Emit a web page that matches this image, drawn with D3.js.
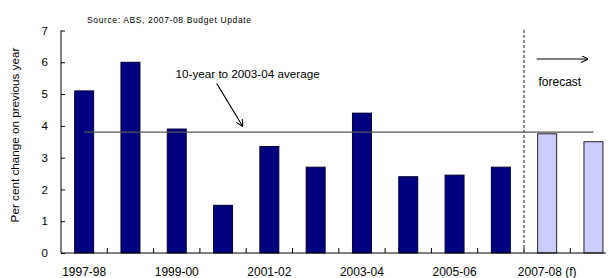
<!DOCTYPE html>
<html><head><meta charset="utf-8">
<script src="https://cdn.jsdelivr.net/npm/d3@7"></script>
<style>body{margin:0;background:#fff}svg{display:block;font-family:"Liberation Sans",Arial,sans-serif}</style>
</head><body>
<svg id="c" width="613" height="278"></svg>
<script>
const categories = ["1997-98","1998-99","1999-00","2000-01","2001-02","2002-03","2003-04","2004-05","2005-06","2006-07","2007-08 (f)","2008-09 (f)"];
const values = [5.1, 6.0, 3.9, 1.5, 3.35, 2.7, 4.4, 2.4, 2.45, 2.7, 3.75, 3.5];
const forecast = [false,false,false,false,false,false,false,false,false,false,true,true];
const xLabels = ["1997-98","1999-00","2001-02","2003-04","2005-06","2007-08 (f)"];
const yTicks = [0,1,2,3,4,5,6,7];
const average = 3.8;
const avgLabel = "10-year to 2003-04 average";
const source = "Source: ABS, 2007-08 Budget Update";
const yTitle = "Per cent change on previous year";

const svg = d3.select("#c");
const x = d3.scaleBand().domain(categories).range([61, 616.6]).paddingInner(0.59).paddingOuter(0.295);
const xb = d3.scaleBand().domain(categories).range([61, 616.6]);
const y = d3.scaleLinear().domain([0, 7]).range([253, 30.5]);

// bars
svg.selectAll("rect.bar").data(categories).join("rect")
  .attr("x", d => x(d)).attr("width", x.bandwidth())
  .attr("y", (d,i) => y(values[i])).attr("height", (d,i) => y(0) - y(values[i]))
  .attr("fill", (d,i) => forecast[i] ? "#ccccff" : "#000080")
  .attr("stroke", (d,i) => forecast[i] ? "#222" : "#000033").attr("stroke-width", 1);

// y axis
const yAxis = d3.axisLeft(y).tickValues(yTicks).tickSize(-4).tickPadding(13).tickFormat(d3.format("d"));
const ga = svg.append("g").attr("transform", "translate(61,0)").call(yAxis);
ga.select(".domain").attr("d", `M0,${y(7)}V${y(0)}`).attr("stroke", "#000");
ga.selectAll("text").attr("font-size", 11.5).attr("fill", "#000").attr("font-family", "Liberation Sans, Arial");
ga.selectAll("line").attr("stroke", "#000");

// x axis line + ticks between categories
svg.append("line").attr("x1", 61).attr("x2", 606).attr("y1", y(0)).attr("y2", y(0)).attr("stroke", "#000");
svg.selectAll("line.xt").data(categories.slice(1)).join("line")
  .attr("x1", d => xb(d)).attr("x2", d => xb(d)).attr("y1", y(0)).attr("y2", y(0) - 5).attr("stroke", "#000");
svg.selectAll("text.xl").data(xLabels).join("text")
  .attr("x", d => xb(d) + xb.bandwidth()/2).attr("y", 276)
  .attr("text-anchor", "middle").attr("font-size", 12).text(d => d);

// average line
svg.append("line")
  .attr("x1", xb(categories[0]) + xb.bandwidth()/2)
  .attr("x2", xb(categories[categories.length-1]) + xb.bandwidth()/2)
  .attr("y1", y(average)).attr("y2", y(average))
  .attr("stroke", "#555").attr("stroke-width", 1.3);

// markers
const defs = svg.append("defs");
defs.append("marker").attr("id", "ah").attr("viewBox", "0 0 10 10").attr("refX", 9).attr("refY", 5)
  .attr("markerWidth", 7).attr("markerHeight", 7).attr("orient", "auto").attr("markerUnits", "userSpaceOnUse")
  .append("path").attr("d", "M0,0 L10,5 L0,10").attr("fill", "none").attr("stroke", "#000").attr("stroke-width", 1.5);

// annotation
svg.append("text").attr("x", 175.5).attr("y", 78).attr("font-size", 11.7).text(avgLabel);
svg.append("line").attr("x1", 216.7).attr("y1", 83.5).attr("x2", 242.5).attr("y2", 126)
  .attr("stroke", "#000").attr("stroke-width", 1.2).attr("marker-end", "url(#ah)");

// forecast divider
const fx = xb(categories[10]);
svg.append("line").attr("x1", fx).attr("x2", fx).attr("y1", 30).attr("y2", y(0))
  .attr("stroke", "#555").attr("stroke-width", 1.3).attr("stroke-dasharray", "3,2");
svg.append("line").attr("x1", 536.7).attr("y1", 59).attr("x2", 587.5).attr("y2", 59)
  .attr("stroke", "#000").attr("stroke-width", 1.2).attr("marker-end", "url(#ah)");
svg.append("text").attr("x", 538.5).attr("y", 85.5).attr("font-size", 12).text("forecast");

// source
svg.append("text").attr("x", 87).attr("y", 23).attr("font-size", 8.5).attr("textLength", 164).attr("lengthAdjust", "spacing").text(source);

// y title
svg.append("text").attr("transform", "translate(19,135) rotate(-90)").attr("text-anchor", "middle")
  .attr("font-size", 11.7).text(yTitle);
</script>
</body></html>
